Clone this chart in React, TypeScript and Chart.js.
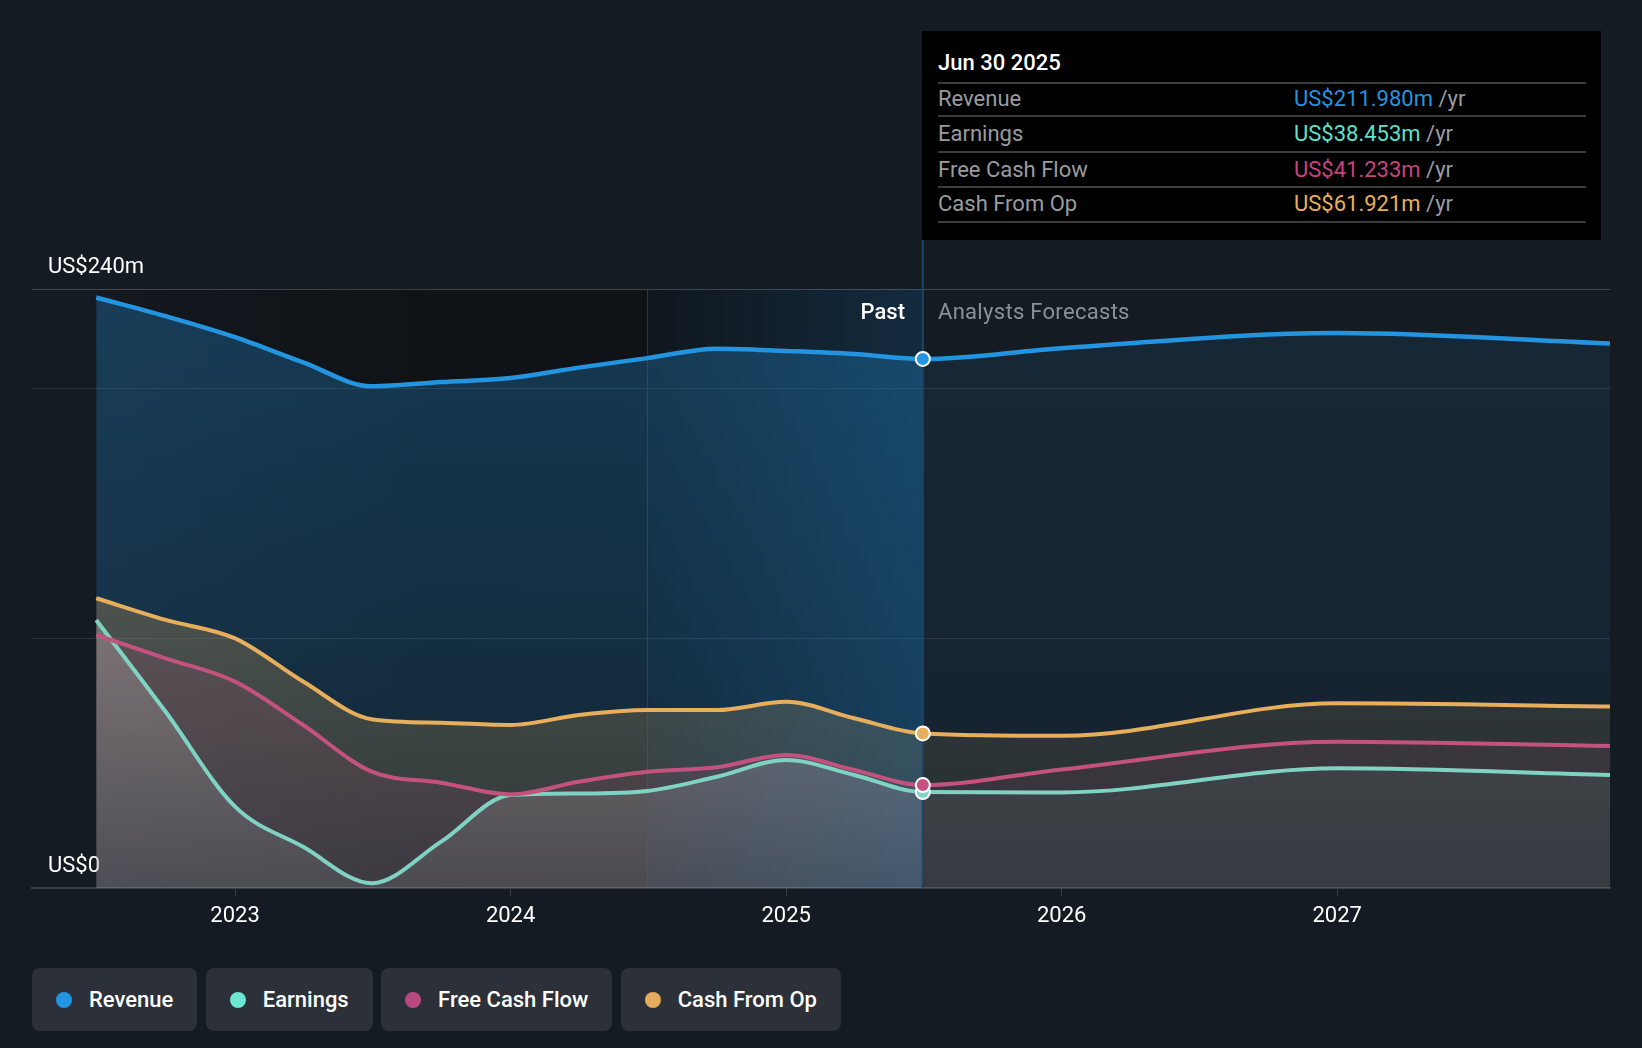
import React, { useEffect, useRef } from "react";
import { Chart, registerables } from "chart.js";

Chart.register(...registerables);

// ---------- data ----------
// quarter-end dates as decimal years (Jun 30, Sep 30, Dec 31, Mar 31 ...)
const pastDates = [2022.496, 2022.748, 2023.0, 2023.247, 2023.496, 2023.748, 2024.0, 2024.247, 2024.496, 2024.748, 2025.0, 2025.247, 2025.496];
const forecastDates = [2026.0, 2027.0, 2027.99];

const revenueValues = [236.6, 229.1, 220.7, 210.6, 201.0, 202.7, 204.3, 208.5, 212.3, 216.1, 215.2, 214.0, 211.98, 216.3, 222.4, 218.2];
const earningsValues = [107.4, 70.6, 32.6, 16.5, 1.9, 18.6, 37.3, 37.9, 38.9, 44.6, 51.3, 45.3, 38.453, 38.3, 48.0, 45.3];
const fcfValues = [101.4, 92.0, 82.7, 65.3, 46.6, 42.2, 37.5, 42.6, 46.6, 48.4, 53.3, 47.3, 41.233, 47.5, 58.6, 56.9];
const cfoValues = [116.1, 107.4, 100.0, 82.7, 67.6, 66.2, 65.3, 69.3, 71.3, 71.3, 74.6, 68.0, 61.921, 61.0, 74.0, 72.7];

const xTicks = [2023, 2024, 2025, 2026, 2027];
const yTicks = [0, 100, 200, 240];
const yTickLabels: Record<number, string> = { 0: "US$0", 240: "US$240m" };

const seriesNames = ["Revenue", "Earnings", "Free Cash Flow", "Cash From Op"];
const seriesColors = ["#2394df", "#6de5d0", "#b9487f", "#e6ab5c"];
const lineColors = ["#2394df", "#80d3c2", "#c4527f", "#e7ae5b"];
const tooltipTitle = "Jun 30 2025";
const tooltipValues = ["US$211.980m", "US$38.453m", "US$41.233m", "US$61.921m"];
const tooltipColors = ["#2394df", "#5fe0cb", "#c8447e", "#e8b05a"];

const X_MIN = 2022.263;
const X_MAX = 2027.99;
const LAST_YEAR_START = 2024.496;
const NOW = 2025.496;
const PAST_LAST = pastDates.length - 1;

// ---------- helpers ----------
const allDates = [...pastDates, ...forecastDates];
const toPoints = (vals: number[]) => allDates.map((x, i) => ({ x, y: vals[i] }));

let gradCache: Record<string, CanvasGradient> = {};
function grad(chart: any, key: string, topVal: number, rgbTop: string, aTop: number, rgbBot: string, aBot: number) {
  const { ctx, chartArea, scales } = chart;
  if (!chartArea || !scales.y) return `rgba(${rgbTop},${aTop})`;
  if (gradCache[key]) return gradCache[key];
  const y0 = scales.y.getPixelForValue(topVal);
  const g = ctx.createLinearGradient(0, y0, 0, chartArea.bottom);
  g.addColorStop(0, `rgba(${rgbTop},${aTop})`);
  g.addColorStop(1, `rgba(${rgbBot},${aBot})`);
  gradCache[key] = g;
  return g;
}

type FillSpec = { key: string; top: number; past: [string, number, string, number]; fc: [string, number, string, number] };
const fillSpecs: Record<string, FillSpec> = {
  revenue: { key: "rev", top: 240, past: ["35,148,223", 0.3, "35,148,223", 0.15], fc: ["35,148,223", 0.1, "35,148,223", 0.07] },
  cfo: { key: "cfo", top: 120, past: ["232,174,90", 0.26, "232,174,90", 0.12], fc: ["232,174,90", 0.14, "232,174,90", 0.08] },
  fcf: { key: "fcf", top: 120, past: ["194,81,127", 0.16, "194,81,127", 0.1], fc: ["194,81,127", 0.12, "194,81,127", 0.08] },
  earnings: { key: "ern", top: 120, past: ["240,232,228", 0.24, "210,230,226", 0.1], fc: ["114,214,192", 0.11, "114,214,192", 0.06] },
};

function fillDataset(name: string, vals: number[]) {
  const s = fillSpecs[name];
  return {
    label: name + "-fill",
    data: toPoints(vals),
    fill: "origin",
    borderColor: "rgba(0,0,0,0)",
    borderWidth: 0,
    pointRadius: 0,
    cubicInterpolationMode: "monotone",
    backgroundColor: `rgba(${s.fc[0]},${s.fc[1]})`,
    segment: {
      backgroundColor: (sc: any) => {
        const fc = sc.p1DataIndex > PAST_LAST;
        const p = fc ? s.fc : s.past;
        return grad(sc.chart, s.key + (fc ? "-f" : "-p"), s.top, p[0], p[1], p[2], p[3]);
      },
    },
  };
}

function lineDataset(name: string, vals: number[], color: string, width: number) {
  return {
    label: name,
    data: toPoints(vals),
    fill: false,
    borderColor: color,
    borderWidth: width,
    cubicInterpolationMode: "monotone",
    pointRadius: (c: any) => (c.dataIndex === PAST_LAST ? 7 : 0),
    pointBackgroundColor: color,
    pointBorderColor: "#ffffff",
    pointBorderWidth: 2,
  };
}

const regionsPlugin = {
  id: "regions",
  beforeDraw(chart: any) {
    const { ctx, chartArea: a, scales } = chart;
    const x = scales.x;
    const x0 = x.getPixelForValue(pastDates[0]);
    const x1 = x.getPixelForValue(NOW);
    const g = ctx.createLinearGradient(x0, 0, x1, 0);
    g.addColorStop(0, "#14181f");
    g.addColorStop(0.4, "#0f1216");
    g.addColorStop(1, "#0f1317");
    ctx.save();
    ctx.fillStyle = g;
    ctx.fillRect(x0, a.top, x1 - x0, a.bottom - a.top);
    ctx.restore();
  },
  beforeDatasetsDraw(chart: any) {
    const { ctx, chartArea: a, scales } = chart;
    const x = scales.x;
    const h0 = x.getPixelForValue(LAST_YEAR_START);
    const h1 = x.getPixelForValue(NOW);
    ctx.save();
    const g = ctx.createLinearGradient(h0, 0, h1, 0);
    g.addColorStop(0, "rgba(35,140,220,0.03)");
    g.addColorStop(1, "rgba(35,140,220,0.2)");
    ctx.fillStyle = g;
    ctx.fillRect(h0, a.top, h1 - h0, a.bottom - a.top);
    ctx.strokeStyle = "rgba(50,100,150,0.45)";
    ctx.lineWidth = 1;
    ctx.beginPath();
    ctx.moveTo(Math.round(h0) + 0.5, a.top);
    ctx.lineTo(Math.round(h0) + 0.5, a.bottom);
    ctx.stroke();
    ctx.strokeStyle = "#1e4565";
    ctx.lineWidth = 2;
    ctx.beginPath();
    ctx.moveTo(h1, 240);
    ctx.lineTo(h1, a.bottom);
    ctx.stroke();
    ctx.restore();
  },
};

export default function App() {
  const canvasRef = useRef<HTMLCanvasElement | null>(null);

  useEffect(() => {
    document.body.style.margin = "0";
    document.body.style.background = "#151b23";
    Chart.defaults.font.family = "Roboto";
    gradCache = {};
    const canvas = canvasRef.current;
    if (!canvas) return;
    const chart = new Chart(canvas, {
      type: "line",
      data: {
        datasets: [
          lineDataset("Revenue", revenueValues, lineColors[0], 4.5),
          lineDataset("Cash From Op", cfoValues, lineColors[3], 4),
          lineDataset("Free Cash Flow", fcfValues, lineColors[2], 4),
          lineDataset("Earnings", earningsValues, lineColors[1], 4),
          fillDataset("earnings", earningsValues),
          fillDataset("fcf", fcfValues),
          fillDataset("cfo", cfoValues),
          fillDataset("revenue", revenueValues),
        ] as any,
      },
      options: {
        animation: false,
        responsive: false,
        events: [],
        layout: { padding: { left: 32, right: 32, top: 289, bottom: 0 } },
        plugins: {
          legend: { display: false },
          tooltip: { enabled: false },
          filler: { drawTime: "beforeDatasetsDraw", propagate: false },
        } as any,
        scales: {
          x: {
            type: "linear",
            min: X_MIN,
            max: X_MAX,
            afterBuildTicks: (s: any) => {
              s.ticks = xTicks.map((v) => ({ value: v }));
            },
            afterFit: (s: any) => {
              s.height = 62;
            },
            ticks: {
              color: "#ffffff",
              font: { size: 22 },
              padding: 7,
              maxRotation: 0,
              autoSkip: false,
              callback: (v: any) => String(v),
            },
            grid: { drawOnChartArea: false, drawTicks: true, tickLength: 8, color: "#3a3f47", lineWidth: 1 },
            border: { display: true, color: "#3a3f47", width: 2 },
          },
          y: {
            type: "linear",
            position: "left",
            min: 0,
            max: 240,
            afterBuildTicks: (s: any) => {
              s.ticks = yTicks.map((v) => ({ value: v }));
            },
            afterFit: (s: any) => {
              s.width = 0;
            },
            ticks: {
              mirror: true,
              padding: 16,
              labelOffset: -22,
              color: "#ffffff",
              font: { size: 22 },
              callback: (v: any) => yTickLabels[v as number] ?? "",
            },
            grid: {
              drawTicks: false,
              color: (c: any) => (c.tick && c.tick.value === 240 ? "rgba(255,255,255,0.2)" : "rgba(255,255,255,0.1)"),
              lineWidth: 1,
            },
            border: { display: false },
          },
        } as any,
      },
      plugins: [regionsPlugin as any],
    });
    return () => chart.destroy();
  }, []);

  const rowTops = [56, 91, 126.6, 161];
  const sepTops = [51, 84, 120, 154.5, 190];

  return (
    <div
      style={{
        position: "relative",
        width: 1642,
        height: 1048,
        background: "#151b23",
        fontFamily: "Roboto, sans-serif",
        overflow: "hidden",
      }}
    >
      <canvas ref={canvasRef} width={1642} height={950} style={{ position: "absolute", left: 0, top: 0 }} />

      {/* Past / forecast labels */}
      <div style={{ position: "absolute", right: 1642 - 905, top: 300, lineHeight: "24px", fontSize: 22, color: "#ffffff", fontWeight: 500 }}>
        Past
      </div>
      <div style={{ position: "absolute", left: 938, top: 300, lineHeight: "24px", fontSize: 22, color: "#8c9199", letterSpacing: 0.3 }}>
        Analysts Forecasts
      </div>

      {/* tooltip box */}
      <div style={{ position: "absolute", left: 922, top: 31, width: 679, height: 209, background: "#000000" }}>
        <div style={{ position: "absolute", left: 16, top: 20, lineHeight: "24px", fontSize: 22, color: "#ffffff", fontWeight: 500 }}>
          {tooltipTitle}
        </div>
        {sepTops.map((t, i) => (
          <div key={"s" + i} style={{ position: "absolute", left: 16, top: t, width: 648, height: 2, background: "#3c3c3c" }} />
        ))}
        {seriesNames.map((n, i) => (
          <React.Fragment key={n}>
            <div style={{ position: "absolute", left: 16, top: rowTops[i], lineHeight: "24px", fontSize: 22, color: "#9a9ca0" }}>{n}</div>
            <div style={{ position: "absolute", left: 372, top: rowTops[i], lineHeight: "24px", fontSize: 22, whiteSpace: "nowrap" }}>
              <span style={{ color: tooltipColors[i] }}>{tooltipValues[i]}</span>
              <span style={{ color: "#9a9ca0" }}> /yr</span>
            </div>
          </React.Fragment>
        ))}
      </div>

      {/* legend */}
      <div style={{ position: "absolute", left: 32, top: 968, display: "flex", gap: 8.4 }}>
        {seriesNames.map((n, i) => (
          <div
            key={n}
            style={{
              height: 63,
              display: "flex",
              alignItems: "center",
              padding: "0 24px 0 24px",
              background: "#2b3039",
              borderRadius: 8,
              boxSizing: "border-box",
            }}
          >
            <span style={{ width: 16, height: 16, borderRadius: 8, background: seriesColors[i], display: "inline-block", marginRight: 17 }} />
            <span style={{ color: "#ffffff", fontSize: 22, fontWeight: 500 }}>{n}</span>
          </div>
        ))}
      </div>
    </div>
  );
}
